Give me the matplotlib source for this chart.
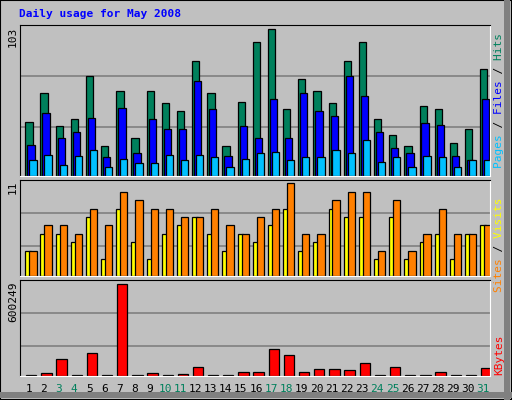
import matplotlib
matplotlib.use("Agg")
import matplotlib.pyplot as plt
import numpy as np
from matplotlib.patches import Rectangle

days = [str(d) for d in range(1, 32)]
weekend = {3, 4, 10, 11, 17, 18, 24, 25, 31}
hits = [38, 58, 35, 40, 70, 21, 60, 27, 60, 51, 46, 81, 58, 21, 52, 94,
        103, 47, 68, 60, 51, 81, 94, 40, 29, 21, 49, 47, 23, 33, 75]
files = [22, 44, 27, 31, 41, 13, 48, 16, 40, 33, 33, 67, 47, 14, 35, 27,
         54, 27, 58, 46, 42, 70, 56, 31, 20, 16, 37, 36, 14, 11, 54]
pages = [11, 15, 8, 14, 18, 6, 12, 9, 9, 15, 11, 15, 13, 6, 12, 16,
         17, 11, 13, 13, 18, 16, 25, 10, 13, 6, 14, 13, 6, 11, 11]
sites = [3, 5, 5, 4, 7, 2, 8, 4, 2, 5, 6, 7, 5, 3, 5, 4,
         6, 8, 3, 4, 8, 7, 7, 2, 7, 2, 4, 5, 2, 5, 6]
visits = [3, 6, 6, 5, 8, 6, 10, 9, 8, 8, 7, 7, 8, 6, 5, 7,
          8, 11, 5, 5, 9, 10, 10, 3, 9, 3, 5, 8, 5, 5, 6]
kbytes = [9000, 22000, 109500, 9000, 153000, 9000, 600249, 9000, 22000, 9000, 15300,
          61300, 9000, 9000, 28500, 28500, 173000, 140000, 28500, 48200, 48200, 41600,
          87600, 9000, 61300, 9000, 9000, 28500, 9000, 9000, 54800]

BG = "#C0C0C0"
W, H = 512, 400
fig = plt.figure(figsize=(5.12, 4.0), dpi=100, facecolor=BG)

# outer border
fig.patches.append(Rectangle((0, 0), 1, 1, transform=fig.transFigure, fill=False,
                             edgecolor="black", linewidth=1.5))
fig.patches.append(Rectangle((504/W, 0), 6/W, 1, transform=fig.transFigure,
                             facecolor="#808080", edgecolor="none"))
fig.patches.append(Rectangle((0, 2/H), 1, 6/H, transform=fig.transFigure,
                             facecolor="#808080", edgecolor="none"))

mono = "DejaVu Sans Mono"
fig.text(19/W, 1-14/H, "Daily usage for May 2008", color="#0000FF", fontsize=8,
         fontweight="bold", family=mono, va="center", ha="left")

x = np.arange(31)

def panel(top, bottom, ymax, grids):
    ax = fig.add_axes([20/W, 1-bottom/H, 470/W, (bottom-top)/H])
    ax.set_facecolor(BG)
    ax.set_xlim(0, 31)
    ax.set_ylim(0, ymax)
    ax.set_xticks([]); ax.set_yticks([])
    for s in ("top", "left"):
        ax.spines[s].set_color("black")
    for s in ("bottom", "right"):
        ax.spines[s].set_color("white")
    for g in grids:
        ax.axhline(g*ymax, color="#808080", lw=1.2, zorder=0)
    return ax

ekw = dict(edgecolor="black", linewidth=0.9, align="edge")
ax1 = panel(25, 176, 103*1.03, [0.325, 0.66])
ax1.bar(x+0.35, hits, 0.48, color="#00805C", **ekw)
ax1.bar(x+0.48, files, 0.48, color="#0000FF", **ekw)
ax1.bar(x+0.61, pages, 0.48, color="#00C0FF", **ekw)

ax2 = panel(180, 276, 11.4, [0.315, 0.66])
ax2.bar(x+0.35, sites, 0.36, color="#FFFF00", **ekw)
ax2.bar(x+0.61, visits, 0.48, color="#FF8000", **ekw)

ax3 = panel(280, 376, 626500, [0.31, 0.655])
ax3.bar(x+0.4, kbytes, 0.68, color="#FF0000", **ekw)

# left value labels
tkw = dict(rotation=90, fontsize=8, family=mono, ha="center", va="top", color="black")
fig.text(13/W, 1-27/H, "103", **tkw)
fig.text(13/W, 1-181/H, "11", **tkw)
fig.text(13/W, 1-282/H, "600249", **tkw)

# day labels
for i, d in enumerate(days):
    c = "#00805C" if (i+1) in weekend else "black"
    fig.text((20 + (i+0.5)*470/31 + 1)/W, 1-389/H, d, color=c, fontsize=8,
             family=mono, ha="center", va="center")

def multicolor(xp, ycenter, parts):
    full = "".join(p for p, _ in parts)
    pos = 0
    for p, col in parts:
        s = " "*pos + p + " "*(len(full)-pos-len(p))
        fig.text(xp/W, 1-ycenter/H, s, rotation=90, color=col, fontsize=8,
                 family=mono, ha="center", va="center")
        pos += len(p)

multicolor(499, 101, [("Pages", "#00C0FF"), (" / ", "#000000"), ("Files", "#0000FF"),
                       (" / ", "#000000"), ("Hits", "#00805C")])
multicolor(499, 245, [("Sites", "#FF8000"), (" / ", "#000000"), ("Visits", "#FFFF00")])
multicolor(499, 355, [("KBytes", "#FF0000")])

fig.savefig("out.png", dpi=100, facecolor=BG)
